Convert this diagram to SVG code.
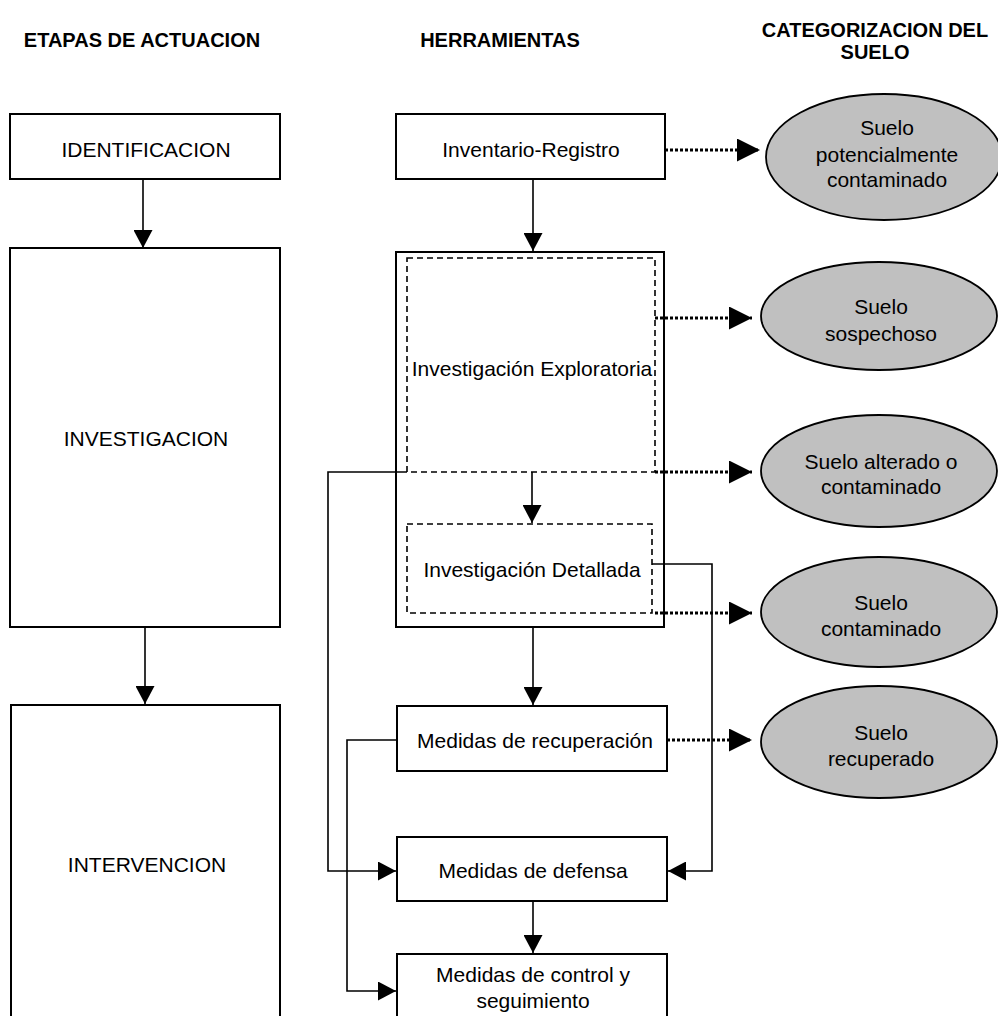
<svg xmlns="http://www.w3.org/2000/svg" width="998" height="1016" viewBox="0 0 998 1016">
<style>
.box{fill:#fff;stroke:#000;stroke-width:2}
.dash{fill:none;stroke:#000;stroke-width:1.6;stroke-dasharray:6,4}
.ell{fill:#c0c0c0;stroke:#000;stroke-width:1.8}
.t{font-family:"Liberation Sans",Arial,sans-serif;font-size:21px;fill:#000;text-anchor:middle}
.h{font-family:"Liberation Sans",Arial,sans-serif;font-size:20px;font-weight:bold;fill:#000;text-anchor:middle}
.c{fill:none;stroke:#000;stroke-width:1.6}
.d{fill:none;stroke:#000;stroke-width:3.2;stroke-dasharray:3,2}
</style>
<defs>
<marker id="arr" markerUnits="userSpaceOnUse" markerWidth="19" markerHeight="19" refX="18" refY="9.5" orient="auto"><path d="M0,0 L18,9.5 L0,19 z" fill="#000"/></marker>
<marker id="arrd" markerUnits="userSpaceOnUse" markerWidth="23" markerHeight="23" refX="23" refY="11.5" orient="auto"><path d="M0,0 L23,11.5 L0,23 z" fill="#000"/></marker>
</defs>
<rect width="998" height="1016" fill="#fff"/>
<g id="headers">
<text class="h" x="142" y="47">ETAPAS DE ACTUACION</text>
<text class="h" x="500" y="47">HERRAMIENTAS</text>
<text class="h" x="875" y="37">CATEGORIZACION DEL</text>
<text class="h" x="875" y="59">SUELO</text>
</g>
<g id="identificacion"><rect class="box" x="10" y="114" width="270" height="65"/><text class="t" x="146" y="157">IDENTIFICACION</text></g>
<g id="investigacion"><rect class="box" x="10" y="248" width="270" height="379"/><text class="t" x="146" y="446">INVESTIGACION</text></g>
<g id="intervencion"><rect class="box" x="11" y="705" width="269" height="330"/><text class="t" x="147" y="872">INTERVENCION</text></g>
<g id="inventario"><rect class="box" x="396" y="114" width="269" height="65"/><text class="t" x="531" y="157">Inventario-Registro</text></g>
<g id="investigacion-herr"><rect class="box" x="396" y="252" width="268" height="375"/></g>
<g id="exploratoria"><rect class="dash" x="407" y="258" width="248" height="214"/><text class="t" x="532" y="376">Investigación Exploratoria</text></g>
<g id="detallada"><rect class="dash" x="407" y="524" width="245" height="89"/><text class="t" x="532" y="577">Investigación Detallada</text></g>
<g id="recuperacion"><rect class="box" x="397" y="706" width="270" height="65"/><text class="t" x="535" y="748">Medidas de recuperación</text></g>
<g id="defensa"><rect class="box" x="397" y="837" width="270" height="64"/><text class="t" x="533" y="878">Medidas de defensa</text></g>
<g id="control"><rect class="box" x="397" y="954" width="270" height="80"/><text class="t" x="533" y="982">Medidas de control y</text><text class="t" x="533" y="1008">seguimiento</text></g>
<g id="e1"><ellipse class="ell" cx="884" cy="157" rx="118" ry="63"/><text class="t" x="887" y="135">Suelo</text><text class="t" x="887" y="162">potencialmente</text><text class="t" x="887" y="187">contaminado</text></g>
<g id="e2"><ellipse class="ell" cx="879" cy="316" rx="118" ry="54"/><text class="t" x="881" y="314">Suelo</text><text class="t" x="881" y="341">sospechoso</text></g>
<g id="e3"><ellipse class="ell" cx="879" cy="471" rx="118" ry="56"/><text class="t" x="881" y="469">Suelo alterado o</text><text class="t" x="881" y="494">contaminado</text></g>
<g id="e4"><ellipse class="ell" cx="879" cy="612" rx="118" ry="55"/><text class="t" x="881" y="610">Suelo</text><text class="t" x="881" y="636">contaminado</text></g>
<g id="e5"><ellipse class="ell" cx="879" cy="742" rx="118" ry="56"/><text class="t" x="881" y="740">Suelo</text><text class="t" x="881" y="766">recuperado</text></g>
<g id="connectors">
<path class="c" d="M143,179 V248" marker-end="url(#arr)"/>
<path class="c" d="M145,627 V704" marker-end="url(#arr)"/>
<path class="c" d="M533,179 V251" marker-end="url(#arr)"/>
<path class="c" d="M532,472 V523" marker-end="url(#arr)"/>
<path class="c" d="M533,627 V705" marker-end="url(#arr)"/>
<path class="c" d="M533,901 V953" marker-end="url(#arr)"/>
<path class="c" d="M407,472 H328 V871 H396" marker-end="url(#arr)"/>
<path class="c" d="M397,740 H347 V991 H396" marker-end="url(#arr)"/>
<path class="c" d="M652,564 H712 V871 H668" marker-end="url(#arr)"/>
<path class="d" d="M665,150 H760" marker-end="url(#arrd)"/>
<path class="d" d="M655,318 H752" marker-end="url(#arrd)"/>
<path class="d" d="M655,472 H752" marker-end="url(#arrd)"/>
<path class="d" d="M655,613 H752" marker-end="url(#arrd)"/>
<path class="d" d="M667,740 H752" marker-end="url(#arrd)"/>
</g>
</svg>
